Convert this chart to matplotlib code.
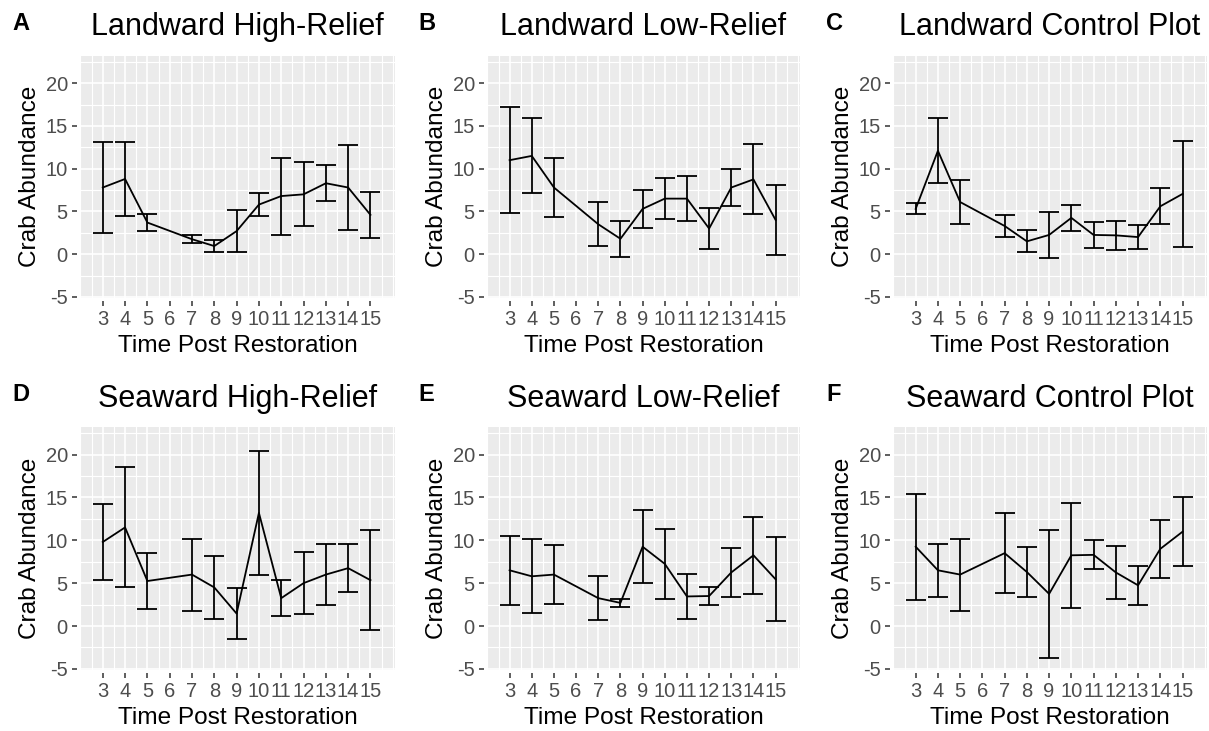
# Crab abundance through time for each restoration plot type

import numpy as np
import matplotlib.pyplot as plt

plt.rcParams['font.family'] = ['Liberation Sans', 'DejaVu Sans']
plt.rcParams['axes.unicode_minus'] = False

# Sampling months (no survey in month 6)
time = [3, 4, 5, 7, 8, 9, 10, 11, 12, 13, 14, 15]
time_ticks = list(range(3, 16))

# Mean crab abundance and error bar half-widths per plot
lw_high_mean = [7.8, 8.8, 3.7, 1.75, 0.95, 2.7, 5.8, 6.8, 7.0, 8.3, 7.8, 4.6]
lw_high_err = [5.3, 4.3, 1.0, 0.45, 0.75, 2.5, 1.3, 4.5, 3.75, 2.1, 5.0, 2.65]

lw_low_mean = [11.0, 11.5, 7.8, 3.5, 1.8, 5.3, 6.5, 6.5, 3.0, 7.8, 8.75, 4.0]
lw_low_err = [6.2, 4.4, 3.5, 2.55, 2.1, 2.2, 2.4, 2.6, 2.4, 2.15, 4.1, 4.1]

lw_ctrl_mean = [5.3, 12.1, 6.1, 3.3, 1.5, 2.25, 4.25, 2.25, 2.2, 2.0, 5.6, 7.05]
lw_ctrl_err = [0.63, 3.8, 2.6, 1.3, 1.3, 2.65, 1.55, 1.5, 1.7, 1.4, 2.1, 6.25]

sw_high_mean = [9.8, 11.5, 5.25, 6.0, 4.5, 1.45, 13.2, 3.25, 5.0, 6.0, 6.75, 5.35]
sw_high_err = [4.45, 7.0, 3.3, 4.2, 3.7, 3.0, 7.2, 2.1, 3.6, 3.6, 2.8, 5.8]

sw_low_mean = [6.5, 5.8, 6.0, 3.25, 2.7, 9.25, 7.25, 3.45, 3.5, 6.25, 8.25, 5.45]
sw_low_err = [4.0, 4.3, 3.4, 2.6, 0.5, 4.25, 4.1, 2.6, 1.0, 2.9, 4.5, 4.9]

sw_ctrl_mean = [9.25, 6.5, 6.0, 8.5, 6.3, 3.75, 8.25, 8.3, 6.25, 4.75, 9.0, 11.0]
sw_ctrl_err = [6.2, 3.1, 4.2, 4.7, 2.9, 7.5, 6.1, 1.7, 3.1, 2.25, 3.4, 4.05]

titles = ['Landward High-Relief', 'Landward Low-Relief', 'Landward Control Plot',
          'Seaward High-Relief', 'Seaward Low-Relief', 'Seaward Control Plot']
letters = ['A', 'B', 'C', 'D', 'E', 'F']
means = [lw_high_mean, lw_low_mean, lw_ctrl_mean, sw_high_mean, sw_low_mean, sw_ctrl_mean]
errs = [lw_high_err, lw_low_err, lw_ctrl_err, sw_high_err, sw_low_err, sw_ctrl_err]

W, H = 1209, 731
fig = plt.figure(figsize=(W / 100, H / 100), dpi=100)

# panel boxes in pixels: left, right for columns; top, bottom for rows
col_lr = [(80, 395), (487, 800), (893, 1207)]
row_tb = [(55.5, 298), (426.7, 670)]
letter_x = [12, 418, 826]
letter_y = [30, 401]

for i in range(6):
    r, c = divmod(i, 3)
    l, rr = col_lr[c]
    t, b = row_tb[r]
    ax = fig.add_axes([l / W, 1 - b / H, (rr - l) / W, (b - t) / H])
    ax.set_facecolor('#EBEBEB')

    ax.errorbar(time, means[i], yerr=errs[i], fmt='-', color='black', lw=1.3,
                elinewidth=1.3, capsize=7.5, capthick=1.3, zorder=3)

    ax.set_xlim(1.98, 16.1)
    ax.set_ylim(-5.13, 23.25)
    ax.set_xticks(time_ticks)
    ax.set_xticks(np.arange(2, 16.5, 0.5), minor=True)
    ax.set_yticks([-5, 0, 5, 10, 15, 20])
    ax.set_yticks(np.arange(-2.5, 23, 5), minor=True)
    ax.grid(which='major', color='white', lw=1.2, zorder=0)
    ax.grid(which='minor', color='white', lw=0.8, zorder=0)
    ax.set_axisbelow(True)

    for s in ax.spines.values():
        s.set_visible(False)
    ax.spines['bottom'].set_position(('outward', 2.5))
    ax.spines['left'].set_position(('outward', 2.5))
    ax.tick_params(which='major', length=3.8, width=1.1, color='#333333',
                   labelcolor='#4D4D4D', labelsize=14.5, pad=2.5)
    ax.tick_params(which='minor', length=0)

    ax.set_xlabel('Time Post Restoration', fontsize=17.6, labelpad=4)
    ax.set_ylabel('Crab Abundance', fontsize=17.6, labelpad=3)
    ax.set_title(titles[i], fontsize=22, pad=14.5)

    fig.text(letter_x[c] / W, 1 - letter_y[r] / H, letters[i], fontsize=17,
             fontweight='bold', va='baseline')

fig.savefig('out.png', dpi=100)
